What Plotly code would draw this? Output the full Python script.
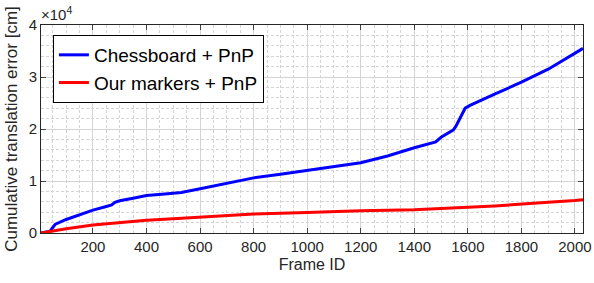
import plotly.graph_objects as go

frames_chess = [6, 20, 40, 52, 60, 100, 150, 200, 250, 270, 282, 300, 350, 400, 468, 530, 600, 700, 800, 900, 1000, 1100, 1200, 1300, 1400, 1480, 1500, 1545, 1555, 1590, 1610, 1700, 1800, 1900, 1950, 2000, 2030]
err_chess = [0, 150, 350, 1200, 1700, 2600, 3500, 4400, 5100, 5400, 5900, 6200, 6700, 7200, 7500, 7800, 8500, 9600, 10600, 11300, 12000, 12700, 13500, 14800, 16400, 17500, 18400, 19800, 20500, 24000, 24600, 26700, 29000, 31500, 33100, 34700, 35500]

frames_ours = [6, 50, 100, 200, 300, 400, 500, 600, 800, 1000, 1200, 1400, 1500, 1600, 1700, 1800, 1900, 2000, 2030]
err_ours = [0, 400, 800, 1550, 2050, 2450, 2750, 3050, 3650, 3950, 4300, 4450, 4650, 4950, 5200, 5500, 5900, 6250, 6400]

x_ticks = [200, 400, 600, 800, 1000, 1200, 1400, 1600, 1800, 2000]
y_ticks = [0, 10000, 20000, 30000, 40000]
y_ticktext = ["0", "1", "2", "3", "4"]

fig = go.Figure()
fig.add_trace(go.Scatter(x=frames_chess, y=err_chess, mode="lines", name="Chessboard + PnP",
                         line=dict(color="#0000ff", width=3)))
fig.add_trace(go.Scatter(x=frames_ours, y=err_ours, mode="lines", name="Our markers + PnP",
                         line=dict(color="#ff0000", width=3)))

axcol = "#262626"
fig.update_layout(
    width=594, height=283,
    margin=dict(l=41, r=11, t=25, b=50),
    paper_bgcolor="white", plot_bgcolor="white",
    font=dict(family="Liberation Sans, Arial, sans-serif", color=axcol, size=14),
    showlegend=True,
    legend=dict(x=0.022, y=0.952, xanchor="left", yanchor="top",
                bgcolor="white", bordercolor="#000000", borderwidth=1,
                font=dict(size=19, color="#000000"), tracegroupgap=0),
    xaxis=dict(range=[6, 2030], tickvals=x_ticks, ticks="inside", ticklen=5,
               showline=True, linecolor=axcol, linewidth=1, mirror="ticks",
               showgrid=True, gridcolor="#d4d4d4", gridwidth=1, zeroline=False,
               automargin=False,
               minor=dict(dtick=50, tick0=0, showgrid=True, gridcolor="#d4d4d4",
                          griddash="3px,2px", ticks=""),
               title=dict(text="Frame ID", font=dict(size=16), standoff=4),
               tickfont=dict(size=15)),
    yaxis=dict(range=[0, 40000], tickvals=y_ticks, ticktext=y_ticktext,
               ticks="inside", ticklen=5,
               showline=True, linecolor=axcol, linewidth=1, mirror="ticks",
               showgrid=True, gridcolor="#d4d4d4", gridwidth=1, zeroline=False,
               automargin=False,
               minor=dict(dtick=2000, tick0=0, showgrid=True, gridcolor="#d4d4d4",
                          griddash="3px,2px", ticks=""),
               title=dict(text="Cumulative translation error [cm]", font=dict(size=17), standoff=6),
               tickfont=dict(size=15)),
    annotations=[dict(text="×10<sup>4</sup>", xref="paper", yref="paper", x=0, y=1.0,
                      xanchor="left", yanchor="bottom", showarrow=False,
                      font=dict(size=15, color=axcol), xshift=-2)],
)

fig.write_html("out.html", config={"displayModeBar": False},
               post_script="document.body.style.margin='0';document.body.style.overflow='hidden';")
